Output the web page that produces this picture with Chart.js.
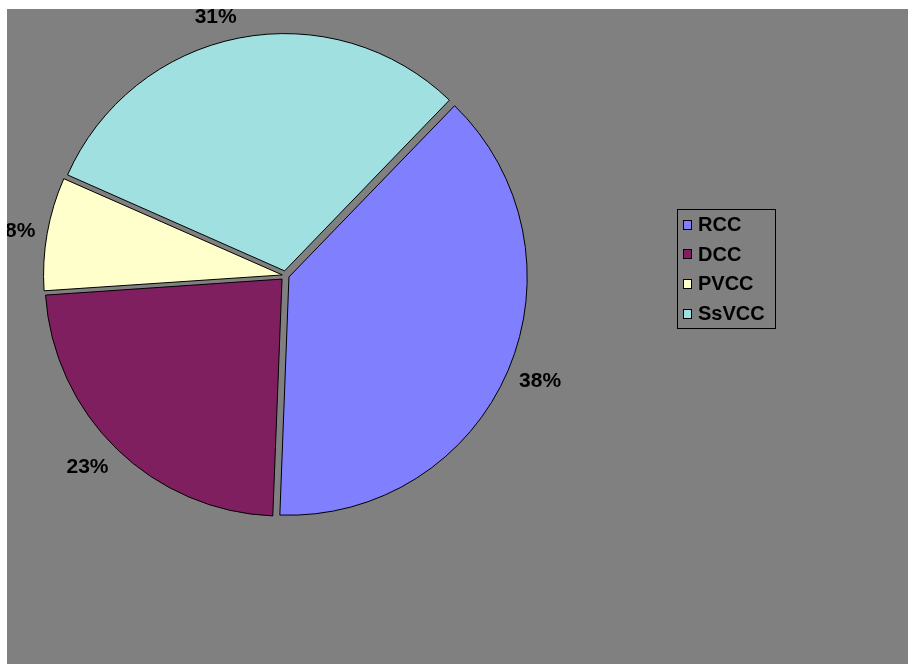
<!DOCTYPE html>
<html>
<head>
<meta charset="utf-8">
<script src="https://cdn.jsdelivr.net/npm/chart.js@4/dist/chart.umd.min.js"></script>
<style>
  html, body { margin: 0; padding: 0; background: #fff; }
  body { width: 908px; height: 664px; position: relative; overflow: hidden; }
  #wrap { position: absolute; left: 7px; top: 9px; width: 901px; height: 655px; background: #808080; overflow: hidden; }
  #pie { position: absolute; left: 0; top: 0; }
  #legend {
    position: absolute; left: 670px; top: 200px; width: 97px;
    border: 1px solid #000; font: bold 20px "Liberation Sans", Arial, sans-serif; color: #000;
  }
  #legend .row { height: 29.6px; display: flex; align-items: center; padding-left: 5px; }
  #legend .box { width: 7px; height: 8px; border: 1px solid #000; margin-right: 6px; flex: none; }
</style>
</head>
<body>
<div id="wrap">
  <canvas id="pie" width="901" height="655"></canvas>
  <div id="legend"></div>
</div>
<script>
const categories = ['RCC', 'DCC', 'PVCC', 'SsVCC'];
const values = [38.4, 23.3, 7.7, 30.6];
const colors = ['#8080FF', '#801F60', '#FFFFCC', '#A0E0E0'];

const EXPLODE = 5;   // px each slice is pulled out
const RADIUS = 237;

// legend (html, built from the arrays)
const legendEl = document.getElementById('legend');
categories.forEach((c, i) => {
  const row = document.createElement('div');
  row.className = 'row';
  row.innerHTML = `<span class="box" style="background:${colors[i]}"></span><span>${c}</span>`;
  legendEl.appendChild(row);
});

const total = values.reduce((a, b) => a + b, 0);

// chart.js arc offset is offset/4 * (1 + (1 - sin(circ))), so solve for a fixed pull-out
function sliceOffset(ctx) {
  const circ = ctx.raw / total * Math.PI * 2;
  const fix = 1 - Math.sin(Math.min(Math.PI, circ));
  return EXPLODE * 4 / (1 + fix);
}

// percent labels outside the slices, excel style: box edge sits on the mid ray
const pctLabels = {
  id: 'pctLabels',
  afterDatasetsDraw(chart) {
    const ctx = chart.ctx;
    const meta = chart.getDatasetMeta(0);
    const size = 21;
    ctx.save();
    ctx.font = `bold ${size}px "Liberation Sans", Arial, sans-serif`;
    ctx.fillStyle = '#000';
    ctx.textBaseline = 'alphabetic';
    meta.data.forEach((arc, i) => {
      const p = arc.getProps(['x', 'y', 'startAngle', 'endAngle', 'outerRadius'], true);
      const mid = (p.startAngle + p.endAngle) / 2;
      const dx = Math.cos(mid), dy = Math.sin(mid);
      const text = Math.round(values[i] / total * 100) + '%';
      const h = size * 0.72;
      const r = p.outerRadius + EXPLODE + 12;
      const ax = p.x + r * dx;
      const cy = p.y + r * dy + dy * h * 0.7;
      ctx.textAlign = dx < 0 ? 'right' : 'left';
      ctx.fillText(text, ax, cy + h / 2);
    });
    ctx.restore();
  }
};

new Chart(document.getElementById('pie'), {
  type: 'pie',
  data: {
    labels: categories,
    datasets: [{
      data: values,
      backgroundColor: colors,
      borderColor: '#000',
      borderWidth: 1,
      offset: sliceOffset,
    }],
  },
  options: {
    responsive: false,
    animation: false,
    rotation: 44,
    radius: RADIUS,
    layout: { padding: { left: 28, top: 16, right: 372, bottom: 138 } },
    plugins: {
      legend: { display: false },
      tooltip: { enabled: false },
    },
  },
  plugins: [pctLabels],
});
</script>
</body>
</html>
